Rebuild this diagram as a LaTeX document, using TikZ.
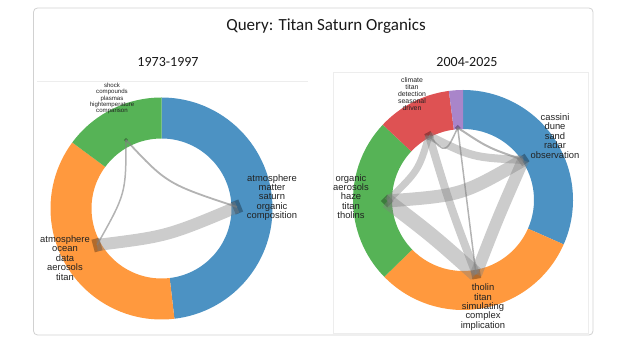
\documentclass[tikz,border=0pt]{standalone}
\usepackage{fontspec}
\setmainfont{Liberation Sans}
\newfontfamily\headfont{Carlito}
\usetikzlibrary{calc}
\definecolor{segblue}{HTML}{4C92C3}
\definecolor{segorange}{HTML}{FF993E}
\definecolor{seggreen}{HTML}{56B356}
\definecolor{segred}{HTML}{DE5253}
\definecolor{segpurple}{HTML}{A985CA}
\definecolor{labelink}{HTML}{222222}

\begin{document}
\begin{tikzpicture}[
  x=1pt,
  y=1pt,
  frame/.style={draw=black!18,line width=0.8pt,rounded corners=4pt},
  panel/.style={draw=black!7,line width=0.6pt},
  chord/.style={draw=black!50,draw opacity=0.4,line width=#1,line cap=butt},
  thinchord/.style={chord=#1,draw opacity=0.6},
  endmark/.style={fill=black,fill opacity=0.3,inner sep=0pt},
  lab/.style={font=\fontsize{#1}{#1}\selectfont,text=labelink,align=center,inner sep=0pt},
  lab/.default=9.4,
  head/.style={font=\headfont\fontsize{#1}{#1}\selectfont,text=black!90,inner sep=0pt}
]
\useasboundingbox (0,0) rectangle (644,358);
\draw[frame] (33.5,23) rectangle (593,350);
\draw[panel] (37,277) -- (308,277);
\draw[panel] (333,25) rectangle (588,286);

\node[head=17] (title) at (326,332) {Query: Titan Saturn Organics};
\node[head=14] (lyears) at (168,296) {1973-1997};
\node[head=14] (ryears) at (467,296) {2004-2025};

% rings
\coordinate (lc) at (161.5,149.5);
\coordinate (rc) at (463,158);
\foreach \a/\b/\c in {90/-83.3/segblue,-83.3/-216.5/segorange,143.5/90/seggreen}
  \fill[\c] ($(lc)+(\a:111)$) arc[start angle=\a,end angle=\b,radius=111]
    -- ($(lc)+(\b:70)$) arc[start angle=\b,end angle=\a,radius=70] -- cycle;
\foreach \a/\b/\c in {90/-23.8/segblue,-23.8/-135.7/segorange,-135.7/-223.2/seggreen,
    136.8/97.4/segred,97.4/90/segpurple}
  \fill[\c] ($(rc)+(\a:110)$) arc[start angle=\a,end angle=\b,radius=110]
    -- ($(rc)+(\b:71)$) arc[start angle=\b,end angle=\a,radius=71] -- cycle;

% chord ends
\node[endmark,minimum width=8pt,minimum height=13pt,rotate=22] (lblue) at (237,151) {};
\node[endmark,minimum width=8pt,minimum height=13pt,rotate=15] (lorange) at (97,113) {};
\node[endmark,minimum size=3pt,rotate=45] (lgreen) at (126,218) {};
\node[endmark,minimum size=9pt,rotate=34] (rblue) at (523.3,198) {};
\node[endmark,minimum size=9pt,rotate=45] (rgreen) at (387.3,157) {};
\node[endmark,minimum size=9pt,rotate=10] (rorange) at (476,83.7) {};
\node[endmark,minimum size=7pt,rotate=28] (rred) at (429,222.3) {};
\node[endmark,minimum size=4pt,rotate=45] (rpurple) at (457.7,230.3) {};

% chords 1973-1997
\draw[chord=12] (lorange.center) .. controls (167,121.7) .. (lblue.center);
\draw[thinchord=1.8] (lgreen.center) .. controls (167,174.2) .. (lblue.center);
\draw[thinchord=1.5] (lgreen.center) .. controls (125.9,164.4) .. (lorange.center);

% chords 2004-2025
\draw[chord=15] (rgreen.center) .. controls (433,122) .. (rorange.center);
\draw[chord=13] (rgreen.center) .. controls (461.6,162.6) .. (rblue.center);
\draw[chord=12] (rblue.center) .. controls (497.9,140.1) .. (rorange.center);
\draw[chord=8] (rred.center) .. controls (472.4,200.6) .. (rblue.center);
\draw[chord=8] (rred.center) .. controls (449.8,153) .. (rorange.center);
\draw[chord=7] (rred.center) .. controls (418.6,187.5) .. (rgreen.center);
\draw[thinchord=2] (rpurple.center) .. controls (487.6,210.4) .. (rblue.center);
\draw[thinchord=1.5] (rpurple.center) .. controls (445.6,204.2) .. (rred.center);
\draw[thinchord=1.5] (rpurple.center) -- (rorange.center);

% labels
\node[lab] (lbluetext) at (272,160.5) {atmosphere\\matter\\saturn\\organic\\composition};
\node[lab] (lorangetext) at (65,100) {atmosphere\\ocean\\data\\aerosols\\titan};
\node[lab=6.1] (lgreentext) at (112,259.5) {shock\\compounds\\plasmas\\hightemperature\\comparison};
\node[lab] (rbluetext) at (555,222) {cassini\\dune\\sand\\radar\\observation};
\node[lab] (rgreentext) at (351,161.5) {organic\\aerosols\\haze\\titan\\tholins};
\node[lab] (rorangetext) at (483,51) {tholin\\titan\\simulating\\complex\\implication};
\node[lab=6.9] (rredtext) at (412,264) {climate\\titan\\detection\\seasonal\\driven};
\end{tikzpicture}
\end{document}
